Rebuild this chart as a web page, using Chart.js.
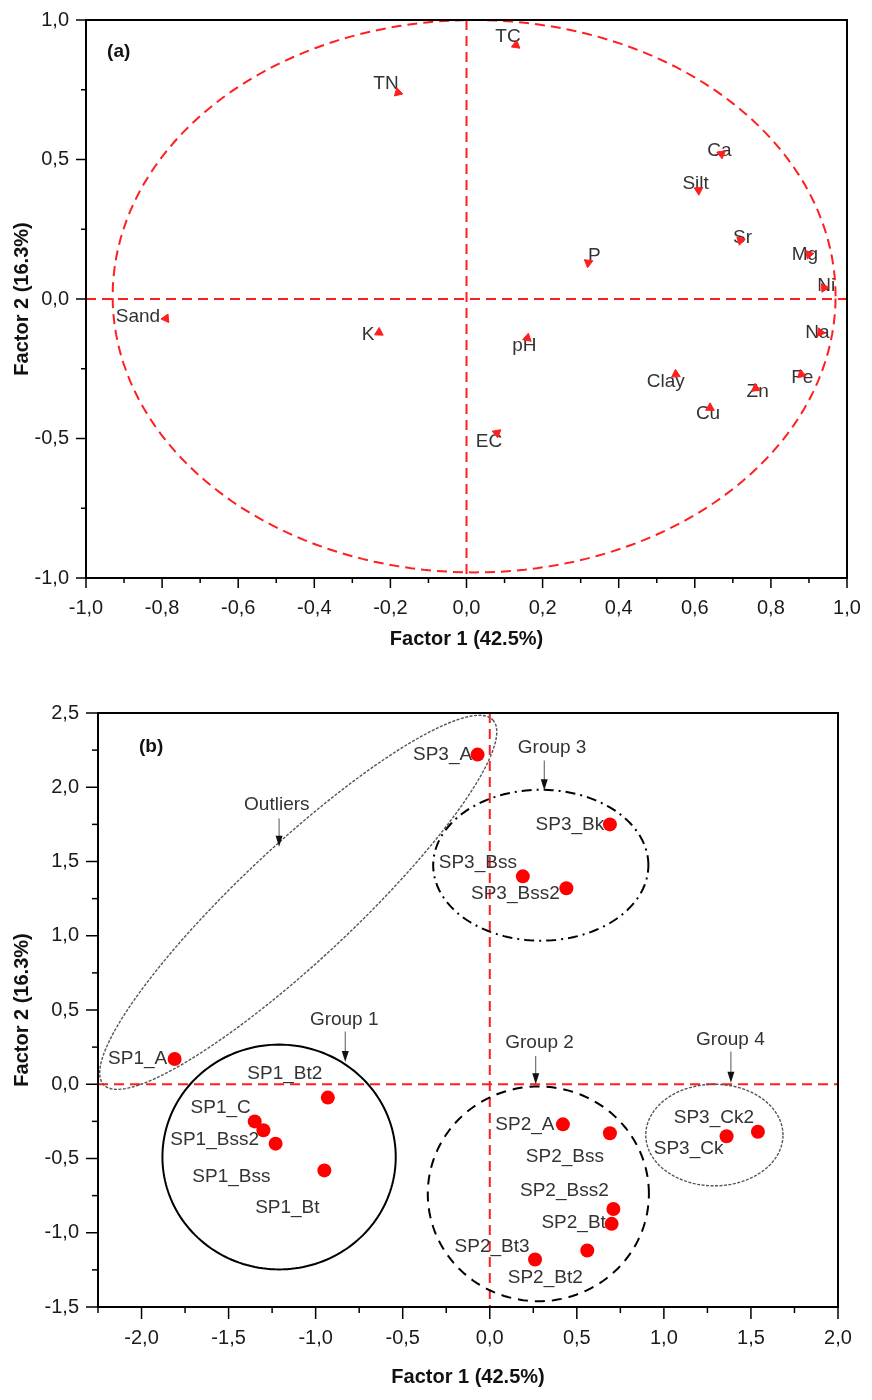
<!DOCTYPE html>
<html lang="en">
<head>
<meta charset="UTF-8">
<title>Factor analysis: loadings and scores</title>
<style>
    * { margin: 0; padding: 0; box-sizing: border-box; }
    body { background: #fff; width: 872px; }
    canvas { display: block; }
</style>
</head>
<body>
<canvas id="loadingChart" width="872" height="660"></canvas>
<canvas id="scoreChart" width="872" height="740"></canvas>

<script src="https://cdn.jsdelivr.net/npm/chart.js"></script>
<script>
// ---- (a) variable loadings ----
const varNames = ['TC', 'TN', 'Ca', 'Silt', 'Sr', 'P', 'Mg', 'Ni', 'Sand', 'K', 'pH', 'Na', 'Clay', 'Fe', 'Zn', 'Cu', 'EC'];
const loadF1 = [0.13, -0.18, 0.67, 0.61, 0.72, 0.32, 0.90, 0.94, -0.79, -0.23, 0.16, 0.93, 0.55, 0.88, 0.76, 0.64, 0.08];
const loadF2 = [0.91, 0.74, 0.52, 0.39, 0.21, 0.13, 0.16, 0.04, -0.07, -0.12, -0.14, -0.12, -0.27, -0.27, -0.32, -0.39, -0.48];

// ---- (b) sample scores ----
const sampleNames = ['SP1_A', 'SP1_Bt2', 'SP1_C', 'SP1_Bss', 'SP1_Bss2', 'SP1_Bt',
    'SP2_A', 'SP2_Bss', 'SP2_Bss2', 'SP2_Bt', 'SP2_Bt2', 'SP2_Bt3',
    'SP3_A', 'SP3_Bk', 'SP3_Bss', 'SP3_Bss2', 'SP3_Ck', 'SP3_Ck2'];
const scoreF1 = [-1.81, -0.93, -1.35, -1.30, -1.23, -0.95,
    0.42, 0.69, 0.71, 0.70, 0.56, 0.26,
    -0.07, 0.69, 0.19, 0.44, 1.36, 1.54];
const scoreF2 = [0.17, -0.09, -0.25, -0.31, -0.40, -0.58,
    -0.27, -0.33, -0.84, -0.94, -1.12, -1.18,
    2.22, 1.75, 1.40, 1.32, -0.35, -0.32];

// axes
const xTitle = 'Factor 1 (42.5%)';
const yTitle = 'Factor 2 (16.3%)';
const loadRange = [-1, 1];
const scoreXRange = [-2.25, 2];
const scoreYRange = [-1.5, 2.5];

const FONT = "'Liberation Sans', Arial, Helvetica, sans-serif";
const RED = '#ff1f1f';

// label nudges in px (label centre relative to its marker)
const loadLabelNudge = {
    TC: [-8, -8], TN: [-12, -9], Ca: [-2, -3], Silt: [-3, -6], Sr: [2, -3], P: [6, -7],
    Mg: [-4, 0], Ni: [2, -2], Sand: [-28, -2], K: [-11, 2], pH: [-3, 8], Na: [-3, 0],
    Clay: [-10, 7], Fe: [1, 3], Zn: [2, 3], Cu: [-2, 6], EC: [-8, 9]
};
const scoreLabelNudge = {
    SP1_A: [-37, 0], SP1_Bt2: [-43, -24], SP1_C: [-34, -14], SP1_Bss: [-32, 46], SP1_Bss2: [-61, -4], SP1_Bt: [-37, 37],
    SP2_A: [-38, 0], SP2_Bss: [-45, 24], SP2_Bss2: [-49, -18], SP2_Bt: [-38, -1], SP2_Bt2: [-42, 27], SP2_Bt3: [-43, -13],
    SP3_A: [-35, 0], SP3_Bk: [-40, 0], SP3_Bss: [-45, -14], SP3_Bss2: [-51, 6], SP3_Ck: [-38, 13], SP3_Ck2: [-44, -14]
};

// group outlines (data units): centre, two semi-axis vectors
const groupShapes = [
    { c: [-1.10, 1.225], u: [1.118, 1.228], v: [0.225, -0.28], color: '#555', width: 1.4, dash: [3, 1.5] }, // outliers
    { c: [-1.21, -0.49], u: [0.67, 0], v: [0, 0.757], color: '#000', width: 2, dash: [] },                  // group 1
    { c: [0.279, -0.738], u: [0.635, 0], v: [0, 0.723], color: '#000', width: 2, dash: [10, 7] },            // group 2
    { c: [0.293, 1.475], u: [0.618, 0], v: [0, 0.508], color: '#000', width: 2, dash: [10, 5, 2, 5] },       // group 3
    { c: [1.29, -0.342], u: [0.394, 0], v: [0, 0.342], color: '#555', width: 1.4, dash: [3, 1.5] }           // group 4
];
const groupNotes = [
    { text: 'Outliers', at: [-1.223, 1.881], arrow: [-1.21, 1.79, 1.60] },
    { text: 'Group 1', at: [-0.836, 0.434], arrow: [-0.83, 0.355, 0.15] },
    { text: 'Group 2', at: [0.286, 0.28], arrow: [0.264, 0.19, 0.0] },
    { text: 'Group 3', at: [0.358, 2.264], arrow: [0.313, 2.18, 1.98] },
    { text: 'Group 4', at: [1.382, 0.30], arrow: [1.385, 0.22, 0.01] }
];

function fmtTick(v) {
    if (Math.abs(v) < 1e-9) v = 0;
    return v.toFixed(1).replace('.', ',');
}
function isMajor(v, step) {
    return Math.abs(v / step - Math.round(v / step)) < 1e-6;
}

function makeAxis(title, range, minor, major, fitSize, horizontal, pad, titlePad) {
    return {
        type: 'linear',
        min: range[0],
        max: range[1],
        afterFit: s => { if (horizontal) s.height = fitSize; else s.width = fitSize; },
        ticks: {
            stepSize: minor,
            autoSkip: false,
            maxRotation: 0,
            padding: pad,
            color: '#1a1a1a',
            font: { family: FONT, size: 20 },
            callback: v => isMajor(v, major) ? fmtTick(v) : ''
        },
        grid: { display: false, drawTicks: true, tickLength: 10 },
        border: { display: false },
        title: {
            display: true,
            text: title,
            color: '#111',
            font: { family: FONT, size: 20, weight: 'bold' },
            padding: titlePad
        }
    };
}

function strokeEllipse(ctx, xs, ys, e) {
    ctx.save();
    ctx.strokeStyle = e.color;
    ctx.lineWidth = e.width;
    ctx.setLineDash(e.dash);
    ctx.beginPath();
    const n = 180;
    for (let i = 0; i <= n; i++) {
        const t = i / n * Math.PI * 2;
        const px = xs.getPixelForValue(e.c[0] + e.u[0] * Math.cos(t) + e.v[0] * Math.sin(t));
        const py = ys.getPixelForValue(e.c[1] + e.u[1] * Math.cos(t) + e.v[1] * Math.sin(t));
        if (i === 0) ctx.moveTo(px, py); else ctx.lineTo(px, py);
    }
    ctx.stroke();
    ctx.restore();
}

function makeOverlay(cfg) {
    return {
        id: 'overlay_' + cfg.name,
        beforeDatasetsDraw(chart) {
            const { ctx, chartArea: a, scales: { x, y } } = chart;
            ctx.save();
            ctx.beginPath();
            ctx.rect(a.left, a.top, a.right - a.left, a.bottom - a.top);
            ctx.clip();

            // dashed zero lines
            ctx.strokeStyle = RED;
            ctx.lineWidth = 2;
            ctx.setLineDash([10, 6]);
            const x0 = x.getPixelForValue(0), y0 = y.getPixelForValue(0);
            ctx.beginPath();
            ctx.moveTo(a.left, y0); ctx.lineTo(a.right, y0);
            ctx.moveTo(x0, a.top); ctx.lineTo(x0, a.bottom);
            ctx.stroke();

            cfg.shapes.forEach(e => strokeEllipse(ctx, x, y, e));
            ctx.restore();

            // group notes with arrows
            ctx.save();
            ctx.font = '19px ' + FONT;
            ctx.textAlign = 'center';
            ctx.textBaseline = 'middle';
            (cfg.notes || []).forEach(nt => {
                ctx.fillStyle = '#333';
                ctx.fillText(nt.text, x.getPixelForValue(nt.at[0]), y.getPixelForValue(nt.at[1]));
                const ax = x.getPixelForValue(nt.arrow[0]);
                const ya = y.getPixelForValue(nt.arrow[1]);
                const yb = y.getPixelForValue(nt.arrow[2]);
                ctx.strokeStyle = '#555';
                ctx.lineWidth = 1;
                ctx.beginPath();
                ctx.moveTo(ax, ya); ctx.lineTo(ax, yb - 8);
                ctx.stroke();
                ctx.fillStyle = '#111';
                ctx.beginPath();
                ctx.moveTo(ax - 3.5, yb - 11);
                ctx.lineTo(ax + 3.5, yb - 11);
                ctx.lineTo(ax, yb);
                ctx.closePath();
                ctx.fill();
            });

            // point labels (markers are drawn over them)
            ctx.fillStyle = '#333';
            ctx.font = cfg.labelSize + 'px ' + FONT;
            cfg.names.forEach((nm, i) => {
                const nd = cfg.nudge[nm] || [0, 0];
                ctx.fillText(nm, x.getPixelForValue(cfg.xs[i]) + nd[0], y.getPixelForValue(cfg.ys[i]) + nd[1]);
            });

            // panel tag
            ctx.fillStyle = '#111';
            ctx.font = 'bold 19px ' + FONT;
            ctx.fillText(cfg.tag, x.getPixelForValue(cfg.tagAt[0]), y.getPixelForValue(cfg.tagAt[1]));
            ctx.restore();
        },
        afterDraw(chart) {
            const { ctx, chartArea: a, scales: { x, y } } = chart;
            ctx.save();
            ctx.strokeStyle = '#000';
            ctx.lineWidth = 1.5;
            x.ticks.forEach(t => {
                const p = x.getPixelForValue(t.value);
                const len = isMajor(t.value, cfg.xMajor) ? cfg.tickLen : cfg.tickLen / 2;
                ctx.beginPath(); ctx.moveTo(p, a.bottom); ctx.lineTo(p, a.bottom + len); ctx.stroke();
            });
            y.ticks.forEach(t => {
                const p = y.getPixelForValue(t.value);
                const len = isMajor(t.value, cfg.yMajor) ? cfg.tickLen : cfg.tickLen / 2;
                ctx.beginPath(); ctx.moveTo(a.left - len, p); ctx.lineTo(a.left, p); ctx.stroke();
            });
            ctx.lineWidth = 2;
            ctx.strokeRect(a.left, a.top, a.right - a.left, a.bottom - a.top);
            ctx.restore();
        }
    };
}

function toPoints(xs, ys) {
    return xs.map((v, i) => ({ x: v, y: ys[i] }));
}

// ---- chart (a) ----
new Chart(document.getElementById('loadingChart'), {
    type: 'scatter',
    data: {
        datasets: [{
            data: toPoints(loadF1, loadF2),
            pointStyle: 'triangle',
            pointRadius: 5,
            pointRotation: loadF1.map((v, i) => Math.atan2(v, loadF2[i]) * 180 / Math.PI),
            backgroundColor: RED,
            borderColor: RED,
            borderWidth: 1
        }]
    },
    options: {
        responsive: false,
        animation: false,
        layout: { padding: { top: 20, right: 25, left: 0, bottom: 0 } },
        plugins: { legend: { display: false }, tooltip: { enabled: false } },
        scales: {
            x: makeAxis(xTitle, loadRange, 0.1, 0.2, 82, true, 8, { bottom: 9 }),
            y: makeAxis(yTitle, loadRange, 0.25, 0.5, 86, false, 7, { top: 10 })
        }
    },
    plugins: [makeOverlay({
        name: 'a',
        shapes: [{ c: [0.02, 0.01], u: [0.95, 0], v: [0, 0.99], color: RED, width: 2, dash: [10, 6] }],
        names: varNames, xs: loadF1, ys: loadF2, nudge: loadLabelNudge, labelSize: 19,
        tag: '(a)', tagAt: [-0.914, 0.885],
        xMajor: 0.2, yMajor: 0.5, tickLen: 10
    })]
});

// ---- chart (b) ----
new Chart(document.getElementById('scoreChart'), {
    type: 'scatter',
    data: {
        datasets: [{
            data: toPoints(scoreF1, scoreF2),
            pointStyle: 'circle',
            pointRadius: 7,
            backgroundColor: '#ff0000',
            borderWidth: 0
        }]
    },
    options: {
        responsive: false,
        animation: false,
        layout: { padding: { top: 53, right: 34, left: 0, bottom: 0 } },
        plugins: { legend: { display: false }, tooltip: { enabled: false } },
        scales: {
            x: makeAxis(xTitle, scoreXRange, 0.25, 0.5, 93, true, 9, { bottom: 11 }),
            y: makeAxis(yTitle, scoreYRange, 0.25, 0.5, 98, false, 9, { top: 10 })
        }
    },
    plugins: [makeOverlay({
        name: 'b',
        shapes: groupShapes, notes: groupNotes,
        names: sampleNames, xs: scoreF1, ys: scoreF2, nudge: scoreLabelNudge, labelSize: 19,
        tag: '(b)', tagAt: [-1.945, 2.273],
        xMajor: 0.5, yMajor: 0.5, tickLen: 12
    })]
});
</script>
</body>
</html>
